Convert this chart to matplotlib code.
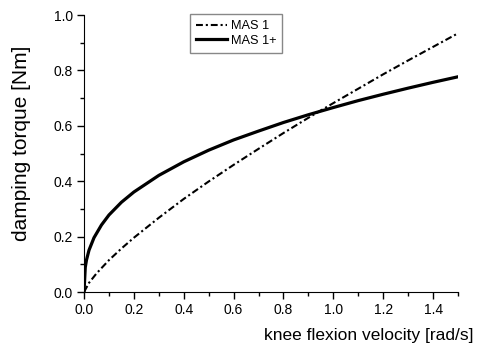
import numpy as np
import matplotlib
matplotlib.use("Agg")
import matplotlib.pyplot as plt
from matplotlib.ticker import MultipleLocator

plt.rcParams['font.family'] = ['Liberation Sans', 'DejaVu Sans']

# MAS 1 (dash-dot)
x_mas1 = [0, 0.02, 0.05, 0.1, 0.15, 0.2, 0.3, 0.4, 0.5, 0.6, 0.7, 0.8, 0.9,
          1.0, 1.1, 1.2, 1.3, 1.4, 1.5]
y_mas1 = [0, 0.033, 0.067, 0.115, 0.157, 0.196, 0.268, 0.336, 0.399, 0.459,
          0.517, 0.574, 0.629, 0.682, 0.734, 0.786, 0.836, 0.885, 0.934]

# MAS 1+ (solid)
x_mas1p = [0, 0.005, 0.01, 0.02, 0.04, 0.07, 0.1, 0.15, 0.2, 0.3, 0.4, 0.5,
           0.6, 0.7, 0.8, 0.9, 1.0, 1.1, 1.2, 1.3, 1.4, 1.5]
y_mas1p = [0, 0.089, 0.116, 0.151, 0.196, 0.242, 0.278, 0.324, 0.361, 0.421,
           0.470, 0.512, 0.549, 0.581, 0.612, 0.640, 0.666, 0.691, 0.714,
           0.736, 0.757, 0.777]

fig = plt.figure(figsize=(4.79, 3.45), dpi=100)
ax = fig.add_axes([0.1754, 0.1536, 0.7808, 0.8029])

ax.plot(x_mas1, y_mas1, color='black', lw=1.5,
        linestyle=(0, (3.3, 1.4, 1.0, 1.4)), label='MAS 1')
ax.plot(x_mas1p, y_mas1p, color='black', lw=2.3, label='MAS 1+')

ax.set_xlim(0, 1.5)
ax.set_ylim(0, 1.0)
ax.xaxis.set_major_locator(MultipleLocator(0.2))
ax.xaxis.set_minor_locator(MultipleLocator(0.1))
ax.yaxis.set_major_locator(MultipleLocator(0.2))
ax.yaxis.set_minor_locator(MultipleLocator(0.1))
ax.xaxis.set_major_formatter(plt.FormatStrFormatter('%.1f'))
ax.yaxis.set_major_formatter(plt.FormatStrFormatter('%.1f'))

for s in ['top', 'right']:
    ax.spines[s].set_visible(False)
ax.tick_params(which='major', direction='out', length=5, width=1,
               labelsize=10, pad=3)
ax.tick_params(which='minor', direction='out', length=3, width=1)

# axis titles
fig.text(22 / 479, 1 - 143 / 345, 'damping torque [Nm]', fontsize=15,
         rotation=90, ha='center', va='center')
fig.text(473 / 479, 5 / 345, 'knee flexion velocity [rad/s]', fontsize=12.5,
         ha='right', va='baseline')

leg = ax.legend(loc='upper left', bbox_to_anchor=(0.284, 1.002),
                borderaxespad=0, fontsize=9.2, handlelength=2.45,
                fancybox=False, framealpha=1, borderpad=0.45,
                labelspacing=0.2, handletextpad=0.3)
leg.get_frame().set_edgecolor('#888888')
leg.get_frame().set_linewidth(1)

fig.savefig('out.png', dpi=100)
